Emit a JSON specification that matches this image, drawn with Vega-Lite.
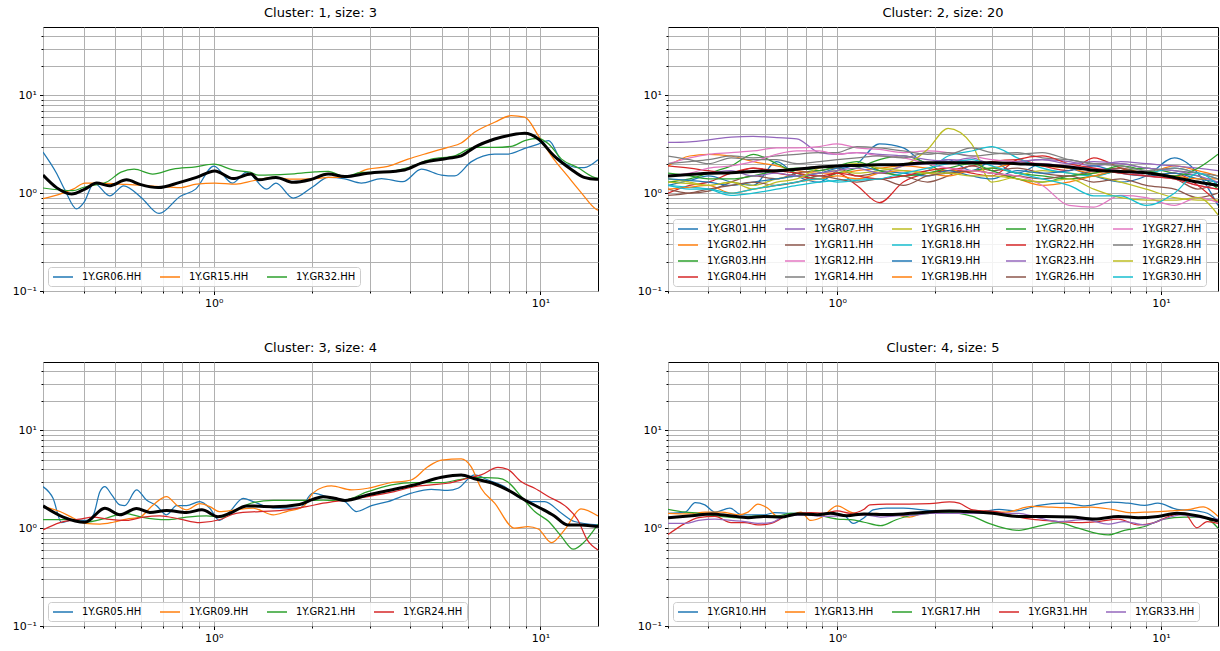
{
  "$schema": "https://vega.github.io/schema/vega-lite/v6.json",
  "padding": {"left": 11, "top": 6, "right": 0, "bottom": 0},
  "config": {
    "font": "DejaVu Sans",
    "view": {"stroke": "black", "strokeWidth": 1},
    "axis": {"title": null, "labelFont": "DejaVu Sans", "labelFontSize": 11, "labelColor": "black", "tickColor": "black", "domain": false, "gridColor": "#b0b0b0", "gridWidth": 1, "labelPadding": 3, "labelFlush": false, "labelOverlap": false},
    "title": {"font": "DejaVu Sans", "fontSize": 13, "fontWeight": "normal", "color": "black", "offset": 7},
    "legend": {"orient": "bottom-left", "offset": 5, "title": null, "symbolType": "M-1,0L3,0", "symbolSize": 100, "symbolStrokeWidth": 1.5, "labelFont": "DejaVu Sans", "labelFontSize": 10, "labelColor": "black", "labelOffset": 18, "fillColor": "rgba(255,255,255,0.85)", "strokeColor": "#cccccc", "cornerRadius": 3, "padding": 4, "columnPadding": 15, "rowPadding": 5, "labelLimit": 0, "direction": "horizontal"}
  },
  "datasets": {
    "p1": [
      {"s":"GR06","f":0.3,"v":2.63},{"s":"GR06","f":0.33,"v":1.6},{"s":"GR06","f":0.35,"v":1.08},{"s":"GR06","f":0.38,"v":0.69},{"s":"GR06","f":0.4,"v":0.8},{"s":"GR06","f":0.43,"v":1.27},{"s":"GR06","f":0.48,"v":0.94},{"s":"GR06","f":0.53,"v":1.19},{"s":"GR06","f":0.6,"v":0.9},{"s":"GR06","f":0.68,"v":0.62},{"s":"GR06","f":0.79,"v":0.93},{"s":"GR06","f":0.88,"v":1.1},{"s":"GR06","f":1.0,"v":1.89},{"s":"GR06","f":1.14,"v":1.27},{"s":"GR06","f":1.26,"v":1.64},{"s":"GR06","f":1.45,"v":1.1},{"s":"GR06","f":1.55,"v":1.27},{"s":"GR06","f":1.75,"v":0.89},{"s":"GR06","f":2.0,"v":1.15},{"s":"GR06","f":2.24,"v":1.45},{"s":"GR06","f":2.52,"v":1.4},{"s":"GR06","f":2.83,"v":1.27},{"s":"GR06","f":3.26,"v":1.41},{"s":"GR06","f":3.79,"v":1.31},{"s":"GR06","f":4.32,"v":1.76},{"s":"GR06","f":4.98,"v":1.53},{"s":"GR06","f":5.46,"v":1.5},{"s":"GR06","f":6.13,"v":2.09},{"s":"GR06","f":7.24,"v":2.51},{"s":"GR06","f":7.93,"v":2.51},{"s":"GR06","f":8.95,"v":2.87},{"s":"GR06","f":9.85,"v":3.18},{"s":"GR06","f":10.6,"v":3.44},{"s":"GR06","f":11.6,"v":2.14},{"s":"GR06","f":13.0,"v":1.83},{"s":"GR06","f":13.6,"v":1.83},{"s":"GR06","f":15,"v":2.2},
      {"s":"GR15","f":0.3,"v":0.88},{"s":"GR15","f":0.338,"v":0.98},{"s":"GR15","f":0.371,"v":1.1},{"s":"GR15","f":0.403,"v":1.27},{"s":"GR15","f":0.448,"v":1.27},{"s":"GR15","f":0.516,"v":1.24},{"s":"GR15","f":0.594,"v":1.21},{"s":"GR15","f":0.684,"v":1.17},{"s":"GR15","f":0.787,"v":1.14},{"s":"GR15","f":0.885,"v":1.24},{"s":"GR15","f":1.007,"v":1.27},{"s":"GR15","f":1.17,"v":1.24},{"s":"GR15","f":1.32,"v":1.34},{"s":"GR15","f":1.52,"v":1.45},{"s":"GR15","f":1.75,"v":1.39},{"s":"GR15","f":2.04,"v":1.41},{"s":"GR15","f":2.24,"v":1.45},{"s":"GR15","f":2.52,"v":1.45},{"s":"GR15","f":2.96,"v":1.76},{"s":"GR15","f":3.41,"v":1.88},{"s":"GR15","f":3.93,"v":2.23},{"s":"GR15","f":4.52,"v":2.57},{"s":"GR15","f":5.2,"v":2.94},{"s":"GR15","f":5.72,"v":3.26},{"s":"GR15","f":6.28,"v":4.19},{"s":"GR15","f":7.24,"v":5.31},{"s":"GR15","f":8.13,"v":6.2},{"s":"GR15","f":8.95,"v":5.98},{"s":"GR15","f":9.85,"v":3.87},{"s":"GR15","f":10.8,"v":2.41},{"s":"GR15","f":12.1,"v":1.5},{"s":"GR15","f":13.3,"v":1.02},{"s":"GR15","f":14.8,"v":0.685},{"s":"GR15","f":15,"v":0.67},
      {"s":"GR32","f":0.3,"v":1.13},{"s":"GR32","f":0.37,"v":1.06},{"s":"GR32","f":0.4,"v":1.15},{"s":"GR32","f":0.47,"v":1.3},{"s":"GR32","f":0.52,"v":1.64},{"s":"GR32","f":0.57,"v":1.76},{"s":"GR32","f":0.65,"v":1.57},{"s":"GR32","f":0.75,"v":1.76},{"s":"GR32","f":0.88,"v":1.86},{"s":"GR32","f":1.0,"v":1.98},{"s":"GR32","f":1.15,"v":1.72},{"s":"GR32","f":1.29,"v":1.64},{"s":"GR32","f":1.37,"v":1.53},{"s":"GR32","f":1.7,"v":1.57},{"s":"GR32","f":2.04,"v":1.65},{"s":"GR32","f":2.24,"v":1.67},{"s":"GR32","f":2.52,"v":1.48},{"s":"GR32","f":2.83,"v":1.63},{"s":"GR32","f":3.26,"v":1.63},{"s":"GR32","f":3.93,"v":1.83},{"s":"GR32","f":4.63,"v":2.23},{"s":"GR32","f":5.46,"v":2.41},{"s":"GR32","f":6.28,"v":2.94},{"s":"GR32","f":7.24,"v":2.94},{"s":"GR32","f":8.13,"v":3.01},{"s":"GR32","f":8.95,"v":3.44},{"s":"GR32","f":9.85,"v":3.64},{"s":"GR32","f":10.6,"v":3.18},{"s":"GR32","f":11.6,"v":2.23},{"s":"GR32","f":13.0,"v":1.83},{"s":"GR32","f":14.6,"v":1.45},{"s":"GR32","f":15,"v":1.42}
    ],
    "m1": [
      {"f":0.3,"v":1.53},{"f":0.33,"v":1.14},{"f":0.367,"v":0.98},{"f":0.403,"v":1.1},{"f":0.438,"v":1.27},{"f":0.478,"v":1.19},{"f":0.541,"v":1.37},{"f":0.594,"v":1.23},{"f":0.676,"v":1.14},{"f":0.787,"v":1.29},{"f":0.885,"v":1.45},{"f":1.007,"v":1.69},{"f":1.146,"v":1.41},{"f":1.3,"v":1.57},{"f":1.37,"v":1.37},{"f":1.55,"v":1.45},{"f":1.75,"v":1.29},{"f":1.97,"v":1.37},{"f":2.24,"v":1.57},{"f":2.52,"v":1.48},{"f":2.96,"v":1.6},{"f":3.84,"v":1.73},{"f":4.32,"v":2.03},{"f":5.2,"v":2.27},{"f":5.72,"v":2.41},{"f":6.28,"v":2.94},{"f":7.24,"v":3.58},{"f":8.13,"v":3.93},{"f":8.95,"v":4.09},{"f":9.85,"v":3.58},{"f":11.0,"v":2.41},{"f":12.4,"v":1.76},{"f":13.6,"v":1.45},{"f":14.8,"v":1.39},{"f":15,"v":1.39}
    ],
    "p2": [
      {"s":"GR01","f":0.3,"v":1.2},{"s":"GR01","f":0.35,"v":1.35},{"s":"GR01","f":0.4,"v":1.5},{"s":"GR01","f":0.47,"v":1.3},{"s":"GR01","f":0.55,"v":1.2},{"s":"GR01","f":0.65,"v":2.1},{"s":"GR01","f":0.75,"v":1.5},{"s":"GR01","f":0.88,"v":1.3},{"s":"GR01","f":1.0,"v":1.7},{"s":"GR01","f":1.15,"v":2.0},{"s":"GR01","f":1.35,"v":3.2},{"s":"GR01","f":1.6,"v":2.9},{"s":"GR01","f":1.9,"v":2.0},{"s":"GR01","f":2.2,"v":2.2},{"s":"GR01","f":2.6,"v":1.7},{"s":"GR01","f":3.0,"v":2.1},{"s":"GR01","f":3.6,"v":1.6},{"s":"GR01","f":4.3,"v":2.0},{"s":"GR01","f":5.2,"v":1.8},{"s":"GR01","f":6.2,"v":1.5},{"s":"GR01","f":7.5,"v":1.3},{"s":"GR01","f":9,"v":1.5},{"s":"GR01","f":11,"v":2.3},{"s":"GR01","f":13,"v":1.6},{"s":"GR01","f":15,"v":0.75},
      {"s":"GR02","f":0.3,"v":1.9},{"s":"GR02","f":0.35,"v":2.4},{"s":"GR02","f":0.4,"v":2.5},{"s":"GR02","f":0.47,"v":2.4},{"s":"GR02","f":0.55,"v":2.1},{"s":"GR02","f":0.65,"v":1.9},{"s":"GR02","f":0.75,"v":1.7},{"s":"GR02","f":0.88,"v":1.6},{"s":"GR02","f":1.0,"v":1.6},{"s":"GR02","f":1.15,"v":1.7},{"s":"GR02","f":1.35,"v":1.8},{"s":"GR02","f":1.6,"v":1.9},{"s":"GR02","f":1.9,"v":1.8},{"s":"GR02","f":2.2,"v":1.7},{"s":"GR02","f":2.6,"v":1.7},{"s":"GR02","f":3.0,"v":1.8},{"s":"GR02","f":3.6,"v":2.0},{"s":"GR02","f":4.3,"v":1.9},{"s":"GR02","f":5.2,"v":1.8},{"s":"GR02","f":6.2,"v":1.6},{"s":"GR02","f":7.5,"v":1.8},{"s":"GR02","f":9,"v":1.6},{"s":"GR02","f":11,"v":1.9},{"s":"GR02","f":13,"v":1.7},{"s":"GR02","f":15,"v":1.5},
      {"s":"GR03","f":0.3,"v":1.3},{"s":"GR03","f":0.35,"v":1.4},{"s":"GR03","f":0.4,"v":1.6},{"s":"GR03","f":0.47,"v":1.9},{"s":"GR03","f":0.55,"v":2.5},{"s":"GR03","f":0.65,"v":2.0},{"s":"GR03","f":0.75,"v":1.6},{"s":"GR03","f":0.88,"v":1.4},{"s":"GR03","f":1.0,"v":1.6},{"s":"GR03","f":1.15,"v":1.8},{"s":"GR03","f":1.35,"v":2.2},{"s":"GR03","f":1.6,"v":2.4},{"s":"GR03","f":1.9,"v":2.0},{"s":"GR03","f":2.2,"v":1.6},{"s":"GR03","f":2.6,"v":1.7},{"s":"GR03","f":3.0,"v":1.8},{"s":"GR03","f":3.6,"v":1.6},{"s":"GR03","f":4.3,"v":1.5},{"s":"GR03","f":5.2,"v":1.4},{"s":"GR03","f":6.2,"v":1.5},{"s":"GR03","f":7.5,"v":1.7},{"s":"GR03","f":9,"v":1.8},{"s":"GR03","f":11,"v":1.6},{"s":"GR03","f":13,"v":1.5},{"s":"GR03","f":15,"v":1.1},
      {"s":"GR04","f":0.3,"v":1.0},{"s":"GR04","f":0.35,"v":1.2},{"s":"GR04","f":0.4,"v":1.3},{"s":"GR04","f":0.47,"v":1.6},{"s":"GR04","f":0.55,"v":1.8},{"s":"GR04","f":0.65,"v":1.6},{"s":"GR04","f":0.75,"v":1.5},{"s":"GR04","f":0.88,"v":1.4},{"s":"GR04","f":1.0,"v":1.6},{"s":"GR04","f":1.15,"v":1.2},{"s":"GR04","f":1.35,"v":0.8},{"s":"GR04","f":1.6,"v":1.3},{"s":"GR04","f":1.9,"v":1.6},{"s":"GR04","f":2.2,"v":1.7},{"s":"GR04","f":2.6,"v":1.9},{"s":"GR04","f":3.0,"v":2.1},{"s":"GR04","f":3.6,"v":2.2},{"s":"GR04","f":4.3,"v":1.9},{"s":"GR04","f":5.2,"v":1.7},{"s":"GR04","f":6.2,"v":2.3},{"s":"GR04","f":7.5,"v":1.8},{"s":"GR04","f":9,"v":1.5},{"s":"GR04","f":11,"v":1.6},{"s":"GR04","f":13,"v":1.2},{"s":"GR04","f":15,"v":0.8},
      {"s":"GR07","f":0.3,"v":3.3},{"s":"GR07","f":0.35,"v":3.35},{"s":"GR07","f":0.4,"v":3.5},{"s":"GR07","f":0.47,"v":3.75},{"s":"GR07","f":0.55,"v":3.8},{"s":"GR07","f":0.65,"v":3.7},{"s":"GR07","f":0.75,"v":3.6},{"s":"GR07","f":0.88,"v":2.6},{"s":"GR07","f":1.0,"v":2.5},{"s":"GR07","f":1.15,"v":2.6},{"s":"GR07","f":1.35,"v":2.5},{"s":"GR07","f":1.6,"v":2.4},{"s":"GR07","f":1.9,"v":2.2},{"s":"GR07","f":2.2,"v":2.1},{"s":"GR07","f":2.6,"v":2.3},{"s":"GR07","f":3.0,"v":2.0},{"s":"GR07","f":3.6,"v":2.1},{"s":"GR07","f":4.3,"v":2.2},{"s":"GR07","f":5.2,"v":2.1},{"s":"GR07","f":6.2,"v":1.9},{"s":"GR07","f":7.5,"v":2.1},{"s":"GR07","f":9,"v":2.0},{"s":"GR07","f":11,"v":1.9},{"s":"GR07","f":13,"v":1.8},{"s":"GR07","f":15,"v":1.7},
      {"s":"GR11","f":0.3,"v":1.1},{"s":"GR11","f":0.35,"v":1.0},{"s":"GR11","f":0.4,"v":1.05},{"s":"GR11","f":0.47,"v":1.3},{"s":"GR11","f":0.55,"v":1.5},{"s":"GR11","f":0.65,"v":1.4},{"s":"GR11","f":0.75,"v":1.6},{"s":"GR11","f":0.88,"v":1.7},{"s":"GR11","f":1.0,"v":1.8},{"s":"GR11","f":1.15,"v":1.5},{"s":"GR11","f":1.35,"v":1.6},{"s":"GR11","f":1.6,"v":1.5},{"s":"GR11","f":1.9,"v":1.3},{"s":"GR11","f":2.2,"v":1.5},{"s":"GR11","f":2.6,"v":1.9},{"s":"GR11","f":3.0,"v":1.7},{"s":"GR11","f":3.6,"v":1.8},{"s":"GR11","f":4.3,"v":1.6},{"s":"GR11","f":5.2,"v":1.5},{"s":"GR11","f":6.2,"v":1.7},{"s":"GR11","f":7.5,"v":1.8},{"s":"GR11","f":9,"v":1.5},{"s":"GR11","f":11,"v":1.4},{"s":"GR11","f":13,"v":1.1},{"s":"GR11","f":15,"v":1.3},
      {"s":"GR12","f":0.3,"v":2.0},{"s":"GR12","f":0.35,"v":2.3},{"s":"GR12","f":0.4,"v":2.5},{"s":"GR12","f":0.47,"v":2.6},{"s":"GR12","f":0.55,"v":2.7},{"s":"GR12","f":0.65,"v":2.9},{"s":"GR12","f":0.75,"v":2.9},{"s":"GR12","f":0.88,"v":3.0},{"s":"GR12","f":1.0,"v":3.2},{"s":"GR12","f":1.15,"v":2.9},{"s":"GR12","f":1.35,"v":2.8},{"s":"GR12","f":1.6,"v":2.6},{"s":"GR12","f":1.9,"v":2.7},{"s":"GR12","f":2.2,"v":2.6},{"s":"GR12","f":2.6,"v":2.4},{"s":"GR12","f":3.0,"v":2.2},{"s":"GR12","f":3.6,"v":2.1},{"s":"GR12","f":4.3,"v":2.0},{"s":"GR12","f":5.2,"v":1.9},{"s":"GR12","f":6.2,"v":1.8},{"s":"GR12","f":7.5,"v":1.7},{"s":"GR12","f":9,"v":1.5},{"s":"GR12","f":11,"v":1.4},{"s":"GR12","f":13,"v":1.2},{"s":"GR12","f":15,"v":1.1},
      {"s":"GR14","f":0.3,"v":2.0},{"s":"GR14","f":0.35,"v":2.1},{"s":"GR14","f":0.4,"v":2.2},{"s":"GR14","f":0.47,"v":2.4},{"s":"GR14","f":0.55,"v":2.3},{"s":"GR14","f":0.65,"v":2.4},{"s":"GR14","f":0.75,"v":2.5},{"s":"GR14","f":0.88,"v":2.6},{"s":"GR14","f":1.0,"v":2.6},{"s":"GR14","f":1.15,"v":3.0},{"s":"GR14","f":1.35,"v":2.9},{"s":"GR14","f":1.6,"v":2.7},{"s":"GR14","f":1.9,"v":2.5},{"s":"GR14","f":2.2,"v":2.6},{"s":"GR14","f":2.6,"v":2.4},{"s":"GR14","f":3.0,"v":2.5},{"s":"GR14","f":3.6,"v":2.6},{"s":"GR14","f":4.3,"v":2.3},{"s":"GR14","f":5.2,"v":2.2},{"s":"GR14","f":6.2,"v":2.0},{"s":"GR14","f":7.5,"v":2.0},{"s":"GR14","f":9,"v":1.8},{"s":"GR14","f":11,"v":1.7},{"s":"GR14","f":13,"v":1.6},{"s":"GR14","f":15,"v":1.5},
      {"s":"GR16","f":0.3,"v":1.4},{"s":"GR16","f":0.35,"v":1.3},{"s":"GR16","f":0.4,"v":1.2},{"s":"GR16","f":0.47,"v":1.3},{"s":"GR16","f":0.55,"v":1.2},{"s":"GR16","f":0.65,"v":1.4},{"s":"GR16","f":0.75,"v":1.5},{"s":"GR16","f":0.88,"v":1.6},{"s":"GR16","f":1.0,"v":1.7},{"s":"GR16","f":1.15,"v":1.6},{"s":"GR16","f":1.35,"v":1.7},{"s":"GR16","f":1.6,"v":1.9},{"s":"GR16","f":1.9,"v":2.8},{"s":"GR16","f":2.2,"v":4.6},{"s":"GR16","f":2.6,"v":3.2},{"s":"GR16","f":3.0,"v":1.3},{"s":"GR16","f":3.6,"v":1.5},{"s":"GR16","f":4.3,"v":1.7},{"s":"GR16","f":5.2,"v":1.6},{"s":"GR16","f":6.2,"v":1.5},{"s":"GR16","f":7.5,"v":1.3},{"s":"GR16","f":9,"v":1.1},{"s":"GR16","f":11,"v":0.9},{"s":"GR16","f":13,"v":0.85},{"s":"GR16","f":15,"v":0.85},
      {"s":"GR18","f":0.3,"v":1.2},{"s":"GR18","f":0.35,"v":1.15},{"s":"GR18","f":0.4,"v":1.1},{"s":"GR18","f":0.47,"v":0.95},{"s":"GR18","f":0.55,"v":1.0},{"s":"GR18","f":0.65,"v":1.1},{"s":"GR18","f":0.75,"v":1.2},{"s":"GR18","f":0.88,"v":1.3},{"s":"GR18","f":1.0,"v":1.35},{"s":"GR18","f":1.15,"v":1.4},{"s":"GR18","f":1.35,"v":1.4},{"s":"GR18","f":1.6,"v":1.5},{"s":"GR18","f":1.9,"v":1.7},{"s":"GR18","f":2.2,"v":2.4},{"s":"GR18","f":2.6,"v":2.7},{"s":"GR18","f":3.0,"v":3.0},{"s":"GR18","f":3.6,"v":2.3},{"s":"GR18","f":4.3,"v":1.8},{"s":"GR18","f":5.2,"v":1.6},{"s":"GR18","f":6.2,"v":1.5},{"s":"GR18","f":7.5,"v":1.7},{"s":"GR18","f":9,"v":1.6},{"s":"GR18","f":11,"v":1.8},{"s":"GR18","f":13,"v":1.6},{"s":"GR18","f":15,"v":1.4},
      {"s":"GR19","f":0.3,"v":1.4},{"s":"GR19","f":0.35,"v":1.35},{"s":"GR19","f":0.4,"v":1.3},{"s":"GR19","f":0.47,"v":1.2},{"s":"GR19","f":0.55,"v":1.3},{"s":"GR19","f":0.65,"v":1.4},{"s":"GR19","f":0.75,"v":1.5},{"s":"GR19","f":0.88,"v":1.6},{"s":"GR19","f":1.0,"v":1.8},{"s":"GR19","f":1.15,"v":1.9},{"s":"GR19","f":1.35,"v":1.7},{"s":"GR19","f":1.6,"v":1.6},{"s":"GR19","f":1.9,"v":1.5},{"s":"GR19","f":2.2,"v":1.7},{"s":"GR19","f":2.6,"v":1.5},{"s":"GR19","f":3.0,"v":1.4},{"s":"GR19","f":3.6,"v":1.7},{"s":"GR19","f":4.3,"v":1.6},{"s":"GR19","f":5.2,"v":1.7},{"s":"GR19","f":6.2,"v":1.9},{"s":"GR19","f":7.5,"v":1.6},{"s":"GR19","f":9,"v":1.5},{"s":"GR19","f":11,"v":1.6},{"s":"GR19","f":13,"v":1.4},{"s":"GR19","f":15,"v":1.3},
      {"s":"GR19B","f":0.3,"v":1.1},{"s":"GR19B","f":0.35,"v":1.15},{"s":"GR19B","f":0.4,"v":1.2},{"s":"GR19B","f":0.47,"v":1.0},{"s":"GR19B","f":0.55,"v":1.1},{"s":"GR19B","f":0.65,"v":1.2},{"s":"GR19B","f":0.75,"v":1.3},{"s":"GR19B","f":0.88,"v":1.4},{"s":"GR19B","f":1.0,"v":1.5},{"s":"GR19B","f":1.15,"v":1.4},{"s":"GR19B","f":1.35,"v":1.6},{"s":"GR19B","f":1.6,"v":1.7},{"s":"GR19B","f":1.9,"v":1.6},{"s":"GR19B","f":2.2,"v":1.5},{"s":"GR19B","f":2.6,"v":1.7},{"s":"GR19B","f":3.0,"v":1.6},{"s":"GR19B","f":3.6,"v":1.4},{"s":"GR19B","f":4.3,"v":1.2},{"s":"GR19B","f":5.2,"v":1.3},{"s":"GR19B","f":6.2,"v":1.5},{"s":"GR19B","f":7.5,"v":1.7},{"s":"GR19B","f":9,"v":1.6},{"s":"GR19B","f":11,"v":1.5},{"s":"GR19B","f":13,"v":1.4},{"s":"GR19B","f":15,"v":1.4},
      {"s":"GR20","f":0.3,"v":1.6},{"s":"GR20","f":0.35,"v":1.5},{"s":"GR20","f":0.4,"v":1.4},{"s":"GR20","f":0.47,"v":1.4},{"s":"GR20","f":0.55,"v":1.5},{"s":"GR20","f":0.65,"v":1.7},{"s":"GR20","f":0.75,"v":1.8},{"s":"GR20","f":0.88,"v":1.7},{"s":"GR20","f":1.0,"v":1.9},{"s":"GR20","f":1.15,"v":2.1},{"s":"GR20","f":1.35,"v":1.7},{"s":"GR20","f":1.6,"v":1.5},{"s":"GR20","f":1.9,"v":1.6},{"s":"GR20","f":2.2,"v":1.8},{"s":"GR20","f":2.6,"v":2.0},{"s":"GR20","f":3.0,"v":1.7},{"s":"GR20","f":3.6,"v":1.4},{"s":"GR20","f":4.3,"v":1.3},{"s":"GR20","f":5.2,"v":1.5},{"s":"GR20","f":6.2,"v":1.6},{"s":"GR20","f":7.5,"v":1.9},{"s":"GR20","f":9,"v":1.7},{"s":"GR20","f":11,"v":1.5},{"s":"GR20","f":13,"v":1.8},{"s":"GR20","f":15,"v":2.5},
      {"s":"GR22","f":0.3,"v":1.9},{"s":"GR22","f":0.35,"v":1.8},{"s":"GR22","f":0.4,"v":1.7},{"s":"GR22","f":0.47,"v":1.6},{"s":"GR22","f":0.55,"v":1.8},{"s":"GR22","f":0.65,"v":1.7},{"s":"GR22","f":0.75,"v":1.6},{"s":"GR22","f":0.88,"v":1.5},{"s":"GR22","f":1.0,"v":1.6},{"s":"GR22","f":1.15,"v":1.5},{"s":"GR22","f":1.35,"v":1.4},{"s":"GR22","f":1.6,"v":1.5},{"s":"GR22","f":1.9,"v":1.7},{"s":"GR22","f":2.2,"v":1.8},{"s":"GR22","f":2.6,"v":1.6},{"s":"GR22","f":3.0,"v":1.5},{"s":"GR22","f":3.6,"v":2.2},{"s":"GR22","f":4.3,"v":2.4},{"s":"GR22","f":5.2,"v":2.0},{"s":"GR22","f":6.2,"v":1.8},{"s":"GR22","f":7.5,"v":1.6},{"s":"GR22","f":9,"v":1.5},{"s":"GR22","f":11,"v":1.4},{"s":"GR22","f":13,"v":1.2},{"s":"GR22","f":15,"v":1.1},
      {"s":"GR23","f":0.3,"v":1.5},{"s":"GR23","f":0.35,"v":1.55},{"s":"GR23","f":0.4,"v":1.6},{"s":"GR23","f":0.47,"v":1.7},{"s":"GR23","f":0.55,"v":1.5},{"s":"GR23","f":0.65,"v":1.6},{"s":"GR23","f":0.75,"v":1.5},{"s":"GR23","f":0.88,"v":1.6},{"s":"GR23","f":1.0,"v":1.7},{"s":"GR23","f":1.15,"v":1.8},{"s":"GR23","f":1.35,"v":1.6},{"s":"GR23","f":1.6,"v":1.9},{"s":"GR23","f":1.9,"v":2.0},{"s":"GR23","f":2.2,"v":2.2},{"s":"GR23","f":2.6,"v":2.1},{"s":"GR23","f":3.0,"v":2.0},{"s":"GR23","f":3.6,"v":2.1},{"s":"GR23","f":4.3,"v":2.2},{"s":"GR23","f":5.2,"v":2.0},{"s":"GR23","f":6.2,"v":2.1},{"s":"GR23","f":7.5,"v":2.0},{"s":"GR23","f":9,"v":1.8},{"s":"GR23","f":11,"v":1.7},{"s":"GR23","f":13,"v":1.5},{"s":"GR23","f":15,"v":1.3},
      {"s":"GR26","f":0.3,"v":0.95},{"s":"GR26","f":0.35,"v":1.0},{"s":"GR26","f":0.4,"v":1.1},{"s":"GR26","f":0.47,"v":1.2},{"s":"GR26","f":0.55,"v":1.3},{"s":"GR26","f":0.65,"v":1.2},{"s":"GR26","f":0.75,"v":1.3},{"s":"GR26","f":0.88,"v":1.5},{"s":"GR26","f":1.0,"v":1.4},{"s":"GR26","f":1.15,"v":1.3},{"s":"GR26","f":1.35,"v":1.4},{"s":"GR26","f":1.6,"v":1.2},{"s":"GR26","f":1.9,"v":1.5},{"s":"GR26","f":2.2,"v":1.6},{"s":"GR26","f":2.6,"v":1.7},{"s":"GR26","f":3.0,"v":1.6},{"s":"GR26","f":3.6,"v":1.5},{"s":"GR26","f":4.3,"v":1.4},{"s":"GR26","f":5.2,"v":1.5},{"s":"GR26","f":6.2,"v":1.3},{"s":"GR26","f":7.5,"v":1.4},{"s":"GR26","f":9,"v":1.2},{"s":"GR26","f":11,"v":1.1},{"s":"GR26","f":13,"v":0.9},{"s":"GR26","f":15,"v":1.0},
      {"s":"GR27","f":0.3,"v":1.5},{"s":"GR27","f":0.35,"v":1.6},{"s":"GR27","f":0.4,"v":1.8},{"s":"GR27","f":0.47,"v":1.9},{"s":"GR27","f":0.55,"v":2.1},{"s":"GR27","f":0.65,"v":2.5},{"s":"GR27","f":0.75,"v":2.7},{"s":"GR27","f":0.88,"v":2.7},{"s":"GR27","f":1.0,"v":2.5},{"s":"GR27","f":1.15,"v":2.6},{"s":"GR27","f":1.35,"v":2.4},{"s":"GR27","f":1.6,"v":2.3},{"s":"GR27","f":1.9,"v":2.0},{"s":"GR27","f":2.2,"v":1.8},{"s":"GR27","f":2.6,"v":1.7},{"s":"GR27","f":3.0,"v":1.6},{"s":"GR27","f":3.6,"v":1.5},{"s":"GR27","f":4.3,"v":1.2},{"s":"GR27","f":5.2,"v":0.75},{"s":"GR27","f":6.2,"v":0.72},{"s":"GR27","f":7.5,"v":0.95},{"s":"GR27","f":9,"v":0.9},{"s":"GR27","f":11,"v":0.75},{"s":"GR27","f":13,"v":0.9},{"s":"GR27","f":15,"v":0.8},
      {"s":"GR28","f":0.3,"v":2.4},{"s":"GR28","f":0.35,"v":2.2},{"s":"GR28","f":0.4,"v":2.0},{"s":"GR28","f":0.47,"v":2.3},{"s":"GR28","f":0.55,"v":2.2},{"s":"GR28","f":0.65,"v":2.2},{"s":"GR28","f":0.75,"v":2.0},{"s":"GR28","f":0.88,"v":2.1},{"s":"GR28","f":1.0,"v":2.2},{"s":"GR28","f":1.15,"v":2.3},{"s":"GR28","f":1.35,"v":2.4},{"s":"GR28","f":1.6,"v":2.3},{"s":"GR28","f":1.9,"v":2.6},{"s":"GR28","f":2.2,"v":2.5},{"s":"GR28","f":2.6,"v":2.9},{"s":"GR28","f":3.0,"v":2.6},{"s":"GR28","f":3.6,"v":2.5},{"s":"GR28","f":4.3,"v":2.6},{"s":"GR28","f":5.2,"v":2.2},{"s":"GR28","f":6.2,"v":2.0},{"s":"GR28","f":7.5,"v":1.9},{"s":"GR28","f":9,"v":1.7},{"s":"GR28","f":11,"v":1.8},{"s":"GR28","f":13,"v":1.6},{"s":"GR28","f":15,"v":1.4},
      {"s":"GR29","f":0.3,"v":1.3},{"s":"GR29","f":0.35,"v":1.25},{"s":"GR29","f":0.4,"v":1.2},{"s":"GR29","f":0.47,"v":1.3},{"s":"GR29","f":0.55,"v":1.1},{"s":"GR29","f":0.65,"v":1.3},{"s":"GR29","f":0.75,"v":1.4},{"s":"GR29","f":0.88,"v":1.8},{"s":"GR29","f":1.0,"v":1.9},{"s":"GR29","f":1.15,"v":2.0},{"s":"GR29","f":1.35,"v":1.8},{"s":"GR29","f":1.6,"v":1.7},{"s":"GR29","f":1.9,"v":1.6},{"s":"GR29","f":2.2,"v":1.6},{"s":"GR29","f":2.6,"v":1.5},{"s":"GR29","f":3.0,"v":1.5},{"s":"GR29","f":3.6,"v":1.4},{"s":"GR29","f":4.3,"v":1.3},{"s":"GR29","f":5.2,"v":1.4},{"s":"GR29","f":6.2,"v":1.1},{"s":"GR29","f":7.5,"v":0.9},{"s":"GR29","f":9,"v":0.85},{"s":"GR29","f":11,"v":0.85},{"s":"GR29","f":13,"v":0.9},{"s":"GR29","f":15,"v":0.6},
      {"s":"GR30","f":0.3,"v":1.2},{"s":"GR30","f":0.35,"v":1.1},{"s":"GR30","f":0.4,"v":1.1},{"s":"GR30","f":0.47,"v":1.0},{"s":"GR30","f":0.55,"v":1.1},{"s":"GR30","f":0.65,"v":1.2},{"s":"GR30","f":0.75,"v":1.3},{"s":"GR30","f":0.88,"v":1.4},{"s":"GR30","f":1.0,"v":1.3},{"s":"GR30","f":1.15,"v":1.35},{"s":"GR30","f":1.35,"v":1.4},{"s":"GR30","f":1.6,"v":1.6},{"s":"GR30","f":1.9,"v":1.8},{"s":"GR30","f":2.2,"v":2.0},{"s":"GR30","f":2.6,"v":2.2},{"s":"GR30","f":3.0,"v":1.9},{"s":"GR30","f":3.6,"v":1.6},{"s":"GR30","f":4.3,"v":1.4},{"s":"GR30","f":5.2,"v":1.2},{"s":"GR30","f":6.2,"v":0.94},{"s":"GR30","f":7.5,"v":0.94},{"s":"GR30","f":9,"v":0.75},{"s":"GR30","f":11,"v":1.0},{"s":"GR30","f":13,"v":1.6},{"s":"GR30","f":15,"v":1.2}
    ],
    "m2": [
      {"f":0.3,"v":1.5},{"f":0.35,"v":1.55},{"f":0.4,"v":1.6},{"f":0.47,"v":1.62},{"f":0.55,"v":1.67},{"f":0.65,"v":1.7},{"f":0.75,"v":1.76},{"f":0.88,"v":1.85},{"f":1.0,"v":1.9},{"f":1.15,"v":1.92},{"f":1.35,"v":1.95},{"f":1.6,"v":1.97},{"f":1.9,"v":2.05},{"f":2.2,"v":2.05},{"f":2.6,"v":2.05},{"f":3.0,"v":2.05},{"f":3.6,"v":2.0},{"f":4.3,"v":1.95},{"f":5.2,"v":1.85},{"f":6.2,"v":1.72},{"f":7.5,"v":1.67},{"f":9,"v":1.62},{"f":11,"v":1.45},{"f":13,"v":1.3},{"f":15,"v":1.2}
    ],
    "p3": [
      {"s":"GR05","f":0.3,"v":2.66},{"s":"GR05","f":0.322,"v":2.02},{"s":"GR05","f":0.342,"v":1.14},{"s":"GR05","f":0.371,"v":1.22},{"s":"GR05","f":0.408,"v":1.2},{"s":"GR05","f":0.428,"v":1.37},{"s":"GR05","f":0.448,"v":2.36},{"s":"GR05","f":0.464,"v":2.66},{"s":"GR05","f":0.487,"v":2.19},{"s":"GR05","f":0.516,"v":1.73},{"s":"GR05","f":0.534,"v":1.7},{"s":"GR05","f":0.58,"v":2.46},{"s":"GR05","f":0.622,"v":1.94},{"s":"GR05","f":0.668,"v":1.7},{"s":"GR05","f":0.717,"v":1.37},{"s":"GR05","f":0.769,"v":1.7},{"s":"GR05","f":0.825,"v":1.7},{"s":"GR05","f":0.906,"v":1.87},{"s":"GR05","f":0.972,"v":1.6},{"s":"GR05","f":1.04,"v":1.2},{"s":"GR05","f":1.12,"v":1.48},{"s":"GR05","f":1.23,"v":2.02},{"s":"GR05","f":1.32,"v":1.87},{"s":"GR05","f":1.45,"v":1.66},{"s":"GR05","f":1.59,"v":1.6},{"s":"GR05","f":1.83,"v":1.6},{"s":"GR05","f":2.01,"v":2.28},{"s":"GR05","f":2.29,"v":2.02},{"s":"GR05","f":2.52,"v":1.87},{"s":"GR05","f":2.73,"v":1.48},{"s":"GR05","f":3.04,"v":1.7},{"s":"GR05","f":3.41,"v":1.87},{"s":"GR05","f":4.02,"v":2.28},{"s":"GR05","f":4.63,"v":2.5},{"s":"GR05","f":5.2,"v":2.43},{"s":"GR05","f":5.59,"v":2.56},{"s":"GR05","f":6.28,"v":3.5},{"s":"GR05","f":6.91,"v":3.11},{"s":"GR05","f":7.76,"v":2.66},{"s":"GR05","f":8.53,"v":2.1},{"s":"GR05","f":9.38,"v":1.87},{"s":"GR05","f":10.3,"v":1.87},{"s":"GR05","f":11.6,"v":1.42},{"s":"GR05","f":12.7,"v":1.17},{"s":"GR05","f":15,"v":1.08},
      {"s":"GR09","f":0.3,"v":1.66},{"s":"GR09","f":0.338,"v":1.48},{"s":"GR09","f":0.371,"v":1.27},{"s":"GR09","f":0.403,"v":1.12},{"s":"GR09","f":0.448,"v":1.1},{"s":"GR09","f":0.492,"v":1.15},{"s":"GR09","f":0.541,"v":1.24},{"s":"GR09","f":0.594,"v":1.3},{"s":"GR09","f":0.652,"v":1.73},{"s":"GR09","f":0.717,"v":2.1},{"s":"GR09","f":0.769,"v":1.73},{"s":"GR09","f":0.825,"v":1.54},{"s":"GR09","f":0.906,"v":1.78},{"s":"GR09","f":0.972,"v":1.66},{"s":"GR09","f":1.04,"v":1.48},{"s":"GR09","f":1.17,"v":1.54},{"s":"GR09","f":1.32,"v":1.6},{"s":"GR09","f":1.52,"v":1.37},{"s":"GR09","f":1.67,"v":1.48},{"s":"GR09","f":1.88,"v":1.66},{"s":"GR09","f":2.01,"v":2.28},{"s":"GR09","f":2.16,"v":2.62},{"s":"GR09","f":2.29,"v":2.7},{"s":"GR09","f":2.64,"v":2.46},{"s":"GR09","f":2.96,"v":2.56},{"s":"GR09","f":3.41,"v":2.88},{"s":"GR09","f":4.02,"v":3.11},{"s":"GR09","f":4.52,"v":4.25},{"s":"GR09","f":4.98,"v":4.97},{"s":"GR09","f":5.72,"v":5.1},{"s":"GR09","f":6.13,"v":4.25},{"s":"GR09","f":6.58,"v":2.56},{"s":"GR09","f":7.24,"v":1.8},{"s":"GR09","f":8.33,"v":1.0},{"s":"GR09","f":9.15,"v":1.04},{"s":"GR09","f":9.85,"v":0.98},{"s":"GR09","f":10.8,"v":0.71},{"s":"GR09","f":11.9,"v":0.98},{"s":"GR09","f":13.3,"v":1.58},{"s":"GR09","f":15,"v":1.33},
      {"s":"GR21","f":0.3,"v":1.22},{"s":"GR21","f":0.371,"v":1.22},{"s":"GR21","f":0.403,"v":1.15},{"s":"GR21","f":0.47,"v":1.27},{"s":"GR21","f":0.534,"v":1.42},{"s":"GR21","f":0.6,"v":1.3},{"s":"GR21","f":0.717,"v":1.22},{"s":"GR21","f":0.825,"v":1.3},{"s":"GR21","f":0.95,"v":1.34},{"s":"GR21","f":1.056,"v":1.3},{"s":"GR21","f":1.17,"v":1.54},{"s":"GR21","f":1.32,"v":1.83},{"s":"GR21","f":1.52,"v":1.92},{"s":"GR21","f":1.83,"v":1.92},{"s":"GR21","f":2.16,"v":1.94},{"s":"GR21","f":2.34,"v":1.92},{"s":"GR21","f":2.52,"v":1.94},{"s":"GR21","f":2.96,"v":2.36},{"s":"GR21","f":3.5,"v":2.77},{"s":"GR21","f":4.11,"v":2.93},{"s":"GR21","f":4.98,"v":2.93},{"s":"GR21","f":5.59,"v":3.11},{"s":"GR21","f":6.28,"v":3.31},{"s":"GR21","f":7.41,"v":3.24},{"s":"GR21","f":7.93,"v":2.98},{"s":"GR21","f":8.74,"v":2.1},{"s":"GR21","f":9.6,"v":1.48},{"s":"GR21","f":10.6,"v":1.17},{"s":"GR21","f":11.6,"v":0.82},{"s":"GR21","f":12.6,"v":0.61},{"s":"GR21","f":13.6,"v":0.72},{"s":"GR21","f":15,"v":1.1},
      {"s":"GR24","f":0.3,"v":0.96},{"s":"GR24","f":0.338,"v":1.14},{"s":"GR24","f":0.389,"v":1.24},{"s":"GR24","f":0.428,"v":1.3},{"s":"GR24","f":0.47,"v":1.24},{"s":"GR24","f":0.541,"v":1.2},{"s":"GR24","f":0.608,"v":1.3},{"s":"GR24","f":0.684,"v":1.34},{"s":"GR24","f":0.787,"v":1.24},{"s":"GR24","f":0.906,"v":1.14},{"s":"GR24","f":1.04,"v":1.22},{"s":"GR24","f":1.17,"v":1.42},{"s":"GR24","f":1.38,"v":1.48},{"s":"GR24","f":1.67,"v":1.54},{"s":"GR24","f":1.92,"v":1.66},{"s":"GR24","f":2.16,"v":1.8},{"s":"GR24","f":2.52,"v":1.94},{"s":"GR24","f":2.96,"v":2.1},{"s":"GR24","f":3.57,"v":2.36},{"s":"GR24","f":4.11,"v":2.66},{"s":"GR24","f":4.63,"v":2.77},{"s":"GR24","f":5.2,"v":2.88},{"s":"GR24","f":5.99,"v":3.24},{"s":"GR24","f":6.58,"v":3.5},{"s":"GR24","f":7.41,"v":4.19},{"s":"GR24","f":7.93,"v":4.0},{"s":"GR24","f":8.74,"v":2.98},{"s":"GR24","f":9.6,"v":2.56},{"s":"GR24","f":10.6,"v":2.1},{"s":"GR24","f":11.9,"v":1.69},{"s":"GR24","f":13.0,"v":1.22},{"s":"GR24","f":13.9,"v":0.76},{"s":"GR24","f":15,"v":0.6}
    ],
    "m3": [
      {"f":0.3,"v":1.69},{"f":0.346,"v":1.3},{"f":0.403,"v":1.15},{"f":0.464,"v":1.6},{"f":0.516,"v":1.37},{"f":0.58,"v":1.59},{"f":0.637,"v":1.45},{"f":0.717,"v":1.52},{"f":0.825,"v":1.45},{"f":0.92,"v":1.54},{"f":1.03,"v":1.31},{"f":1.12,"v":1.42},{"f":1.26,"v":1.69},{"f":1.52,"v":1.66},{"f":1.83,"v":1.75},{"f":2.01,"v":1.97},{"f":2.16,"v":2.1},{"f":2.34,"v":2.02},{"f":2.52,"v":1.92},{"f":2.96,"v":2.19},{"f":3.57,"v":2.5},{"f":4.11,"v":2.77},{"f":4.98,"v":3.31},{"f":5.72,"v":3.5},{"f":6.28,"v":3.2},{"f":7.24,"v":2.83},{"f":7.93,"v":2.46},{"f":8.95,"v":1.94},{"f":10.0,"v":1.6},{"f":11.0,"v":1.34},{"f":12.1,"v":1.08},{"f":13.3,"v":1.08},{"f":15,"v":1.04}
    ],
    "p4": [
      {"s":"GR10","f":0.3,"v":1.42},{"s":"GR10","f":0.339,"v":1.46},{"s":"GR10","f":0.364,"v":1.83},{"s":"GR10","f":0.39,"v":1.73},{"s":"GR10","f":0.419,"v":1.46},{"s":"GR10","f":0.466,"v":1.6},{"s":"GR10","f":0.506,"v":1.37},{"s":"GR10","f":0.555,"v":1.37},{"s":"GR10","f":0.596,"v":1.37},{"s":"GR10","f":0.639,"v":1.44},{"s":"GR10","f":0.703,"v":1.42},{"s":"GR10","f":0.79,"v":1.42},{"s":"GR10","f":0.868,"v":1.37},{"s":"GR10","f":0.953,"v":1.42},{"s":"GR10","f":1.047,"v":1.37},{"s":"GR10","f":1.12,"v":1.12},{"s":"GR10","f":1.21,"v":1.28},{"s":"GR10","f":1.29,"v":1.54},{"s":"GR10","f":1.42,"v":1.6},{"s":"GR10","f":1.6,"v":1.6},{"s":"GR10","f":1.84,"v":1.54},{"s":"GR10","f":2.07,"v":1.5},{"s":"GR10","f":2.38,"v":1.5},{"s":"GR10","f":2.74,"v":1.46},{"s":"GR10","f":3.16,"v":1.56},{"s":"GR10","f":3.55,"v":1.5},{"s":"GR10","f":4.19,"v":1.71},{"s":"GR10","f":5.06,"v":1.8},{"s":"GR10","f":5.83,"v":1.69},{"s":"GR10","f":7.03,"v":1.85},{"s":"GR10","f":7.9,"v":1.8},{"s":"GR10","f":8.9,"v":1.71},{"s":"GR10","f":9.78,"v":1.8},{"s":"GR10","f":11.2,"v":1.56},{"s":"GR10","f":12.9,"v":1.5},{"s":"GR10","f":13.9,"v":1.42},{"s":"GR10","f":15,"v":1.2},
      {"s":"GR13","f":0.3,"v":1.42},{"s":"GR13","f":0.347,"v":1.4},{"s":"GR13","f":0.39,"v":1.46},{"s":"GR13","f":0.439,"v":1.46},{"s":"GR13","f":0.494,"v":1.37},{"s":"GR13","f":0.53,"v":1.46},{"s":"GR13","f":0.569,"v":1.76},{"s":"GR13","f":0.61,"v":1.6},{"s":"GR13","f":0.655,"v":1.32},{"s":"GR13","f":0.703,"v":1.33},{"s":"GR13","f":0.772,"v":1.46},{"s":"GR13","f":0.828,"v":1.2},{"s":"GR13","f":0.889,"v":1.28},{"s":"GR13","f":1.0,"v":1.69},{"s":"GR13","f":1.1,"v":1.46},{"s":"GR13","f":1.21,"v":1.37},{"s":"GR13","f":1.32,"v":1.42},{"s":"GR13","f":1.52,"v":1.37},{"s":"GR13","f":1.67,"v":1.3},{"s":"GR13","f":1.84,"v":1.42},{"s":"GR13","f":2.07,"v":1.46},{"s":"GR13","f":2.62,"v":1.5},{"s":"GR13","f":3.31,"v":1.46},{"s":"GR13","f":3.99,"v":1.67},{"s":"GR13","f":4.6,"v":1.64},{"s":"GR13","f":5.3,"v":1.62},{"s":"GR13","f":6.1,"v":1.64},{"s":"GR13","f":7.03,"v":1.56},{"s":"GR13","f":8.1,"v":1.44},{"s":"GR13","f":8.9,"v":1.46},{"s":"GR13","f":10.7,"v":1.5},{"s":"GR13","f":12.3,"v":1.56},{"s":"GR13","f":13.5,"v":1.65},{"s":"GR13","f":15,"v":1.32},
      {"s":"GR17","f":0.3,"v":1.56},{"s":"GR17","f":0.339,"v":1.46},{"s":"GR17","f":0.373,"v":1.42},{"s":"GR17","f":0.419,"v":1.34},{"s":"GR17","f":0.494,"v":1.28},{"s":"GR17","f":0.569,"v":1.34},{"s":"GR17","f":0.655,"v":1.34},{"s":"GR17","f":0.719,"v":1.42},{"s":"GR17","f":0.79,"v":1.42},{"s":"GR17","f":0.889,"v":1.34},{"s":"GR17","f":1.0,"v":1.24},{"s":"GR17","f":1.1,"v":1.22},{"s":"GR17","f":1.21,"v":1.15},{"s":"GR17","f":1.36,"v":1.06},{"s":"GR17","f":1.52,"v":1.22},{"s":"GR17","f":1.67,"v":1.34},{"s":"GR17","f":1.93,"v":1.42},{"s":"GR17","f":2.07,"v":1.46},{"s":"GR17","f":2.38,"v":1.42},{"s":"GR17","f":2.62,"v":1.32},{"s":"GR17","f":2.94,"v":1.12},{"s":"GR17","f":3.64,"v":0.95},{"s":"GR17","f":4.19,"v":1.05},{"s":"GR17","f":4.81,"v":1.14},{"s":"GR17","f":5.55,"v":1.0},{"s":"GR17","f":6.87,"v":0.855},{"s":"GR17","f":7.71,"v":0.95},{"s":"GR17","f":8.9,"v":1.04},{"s":"GR17","f":10.2,"v":1.24},{"s":"GR17","f":11.8,"v":1.3},{"s":"GR17","f":13.5,"v":1.3},{"s":"GR17","f":15,"v":1.0},
      {"s":"GR31","f":0.3,"v":0.86},{"s":"GR31","f":0.339,"v":1.12},{"s":"GR31","f":0.373,"v":1.28},{"s":"GR31","f":0.419,"v":1.32},{"s":"GR31","f":0.47,"v":1.14},{"s":"GR31","f":0.518,"v":1.14},{"s":"GR31","f":0.569,"v":1.08},{"s":"GR31","f":0.625,"v":1.12},{"s":"GR31","f":0.686,"v":1.3},{"s":"GR31","f":0.754,"v":1.42},{"s":"GR31","f":0.828,"v":1.44},{"s":"GR31","f":0.909,"v":1.42},{"s":"GR31","f":1.0,"v":1.5},{"s":"GR31","f":1.1,"v":1.42},{"s":"GR31","f":1.21,"v":1.56},{"s":"GR31","f":1.26,"v":1.73},{"s":"GR31","f":1.42,"v":1.76},{"s":"GR31","f":1.67,"v":1.76},{"s":"GR31","f":1.93,"v":1.78},{"s":"GR31","f":2.22,"v":1.86},{"s":"GR31","f":2.38,"v":1.8},{"s":"GR31","f":2.62,"v":1.54},{"s":"GR31","f":3.16,"v":1.46},{"s":"GR31","f":3.55,"v":1.32},{"s":"GR31","f":4.09,"v":1.22},{"s":"GR31","f":4.81,"v":1.17},{"s":"GR31","f":5.55,"v":1.14},{"s":"GR31","f":6.38,"v":1.17},{"s":"GR31","f":7.39,"v":1.24},{"s":"GR31","f":8.5,"v":1.08},{"s":"GR31","f":9.55,"v":1.14},{"s":"GR31","f":10.7,"v":1.34},{"s":"GR31","f":11.8,"v":1.42},{"s":"GR31","f":12.9,"v":1.01},{"s":"GR31","f":13.9,"v":1.17},{"s":"GR31","f":15,"v":1.12},
      {"s":"GR33","f":0.3,"v":1.12},{"s":"GR33","f":0.339,"v":1.12},{"s":"GR33","f":0.373,"v":1.2},{"s":"GR33","f":0.419,"v":1.24},{"s":"GR33","f":0.47,"v":1.2},{"s":"GR33","f":0.518,"v":1.17},{"s":"GR33","f":0.569,"v":1.12},{"s":"GR33","f":0.625,"v":1.14},{"s":"GR33","f":0.686,"v":1.32},{"s":"GR33","f":0.79,"v":1.37},{"s":"GR33","f":0.909,"v":1.32},{"s":"GR33","f":1.047,"v":1.34},{"s":"GR33","f":1.21,"v":1.37},{"s":"GR33","f":1.36,"v":1.3},{"s":"GR33","f":1.52,"v":1.34},{"s":"GR33","f":1.77,"v":1.37},{"s":"GR33","f":1.93,"v":1.42},{"s":"GR33","f":2.5,"v":1.42},{"s":"GR33","f":3.16,"v":1.42},{"s":"GR33","f":3.64,"v":1.42},{"s":"GR33","f":4.09,"v":1.3},{"s":"GR33","f":4.81,"v":1.17},{"s":"GR33","f":5.83,"v":1.22},{"s":"GR33","f":6.87,"v":1.1},{"s":"GR33","f":7.71,"v":1.17},{"s":"GR33","f":8.9,"v":1.08},{"s":"GR33","f":10.2,"v":1.24},{"s":"GR33","f":11.5,"v":1.37},{"s":"GR33","f":12.9,"v":1.3},{"s":"GR33","f":15,"v":1.24}
    ],
    "m4": [
      {"f":0.3,"v":1.28},{"f":0.355,"v":1.34},{"f":0.409,"v":1.4},{"f":0.466,"v":1.34},{"f":0.53,"v":1.28},{"f":0.596,"v":1.32},{"f":0.67,"v":1.3},{"f":0.754,"v":1.4},{"f":0.868,"v":1.37},{"f":0.953,"v":1.42},{"f":1.07,"v":1.34},{"f":1.21,"v":1.4},{"f":1.39,"v":1.38},{"f":1.6,"v":1.4},{"f":1.84,"v":1.45},{"f":2.22,"v":1.5},{"f":2.5,"v":1.48},{"f":3.02,"v":1.42},{"f":3.64,"v":1.32},{"f":4.39,"v":1.32},{"f":5.3,"v":1.3},{"f":6.24,"v":1.24},{"f":7.39,"v":1.32},{"f":8.5,"v":1.28},{"f":9.78,"v":1.32},{"f":11.2,"v":1.42},{"f":12.9,"v":1.34},{"f":15,"v":1.18}
    ]
  },
  "columns": 2,
  "spacing": {"column": 37, "row": 32},
  "resolve": {"scale": {"color": "independent", "x": "independent", "y": "independent"}, "legend": {"color": "independent"}},
  "concat": [
    {
      "title": "Cluster: 1, size: 3",
      "width": 555, "height": 264,
      "layer": [
        {"data": {"name": "p1"}, "mark": {"type": "line", "strokeWidth": 1.25, "interpolate": "monotone", "clip": true},
         "encoding": {
           "x": {"field": "f", "type": "quantitative", "scale": {"type": "log", "domain": [0.3, 15], "nice": false}, "axis": {"values": [0.3,0.4,0.5,0.6,0.7,0.8,0.9,1,2,3,4,5,6,7,8,9,10], "labelExpr": "datum.value==1?'10⁰':datum.value==10?'10¹':''", "tickSize": {"condition": {"test": "datum.value==1||datum.value==10", "value": 3.5}, "value": 2}}},
           "y": {"field": "v", "type": "quantitative", "scale": {"type": "log", "domain": [0.1, 50], "nice": false}, "axis": {"values": [0.1,0.2,0.3,0.4,0.5,0.6,0.7,0.8,0.9,1,2,3,4,5,6,7,8,9,10,20,30,40], "labelExpr": "datum.value==10?'10¹':datum.value==1?'10⁰':datum.value==0.1?'10⁻¹':''", "tickSize": {"condition": {"test": "datum.value==0.1||datum.value==1||datum.value==10", "value": 3.5}, "value": 2}}},
           "color": {"field": "s", "type": "nominal", "scale": {"domain": ["GR06","GR15","GR32"], "range": ["#1f77b4","#ff7f0e","#2ca02c"]}, "legend": {"columns": 3, "labelExpr": "'1Y.' + datum.label + '.HH'"}}
         }},
        {"data": {"name": "m1"}, "mark": {"type": "line", "color": "black", "strokeWidth": 3, "interpolate": "monotone", "clip": true},
         "encoding": {"x": {"field": "f", "type": "quantitative"}, "y": {"field": "v", "type": "quantitative"}}}
      ]
    },
    {
      "title": "Cluster: 2, size: 20",
      "width": 550, "height": 264,
      "layer": [
        {"data": {"name": "p2"}, "mark": {"type": "line", "strokeWidth": 1.25, "interpolate": "monotone", "clip": true},
         "encoding": {
           "x": {"field": "f", "type": "quantitative", "scale": {"type": "log", "domain": [0.3, 15], "nice": false}, "axis": {"values": [0.3,0.4,0.5,0.6,0.7,0.8,0.9,1,2,3,4,5,6,7,8,9,10], "labelExpr": "datum.value==1?'10⁰':datum.value==10?'10¹':''", "tickSize": {"condition": {"test": "datum.value==1||datum.value==10", "value": 3.5}, "value": 2}}},
           "y": {"field": "v", "type": "quantitative", "scale": {"type": "log", "domain": [0.1, 50], "nice": false}, "axis": {"values": [0.1,0.2,0.3,0.4,0.5,0.6,0.7,0.8,0.9,1,2,3,4,5,6,7,8,9,10,20,30,40], "labelExpr": "datum.value==10?'10¹':datum.value==1?'10⁰':datum.value==0.1?'10⁻¹':''", "tickSize": {"condition": {"test": "datum.value==0.1||datum.value==1||datum.value==10", "value": 3.5}, "value": 2}}},
           "color": {"field": "s", "type": "nominal", "scale": {"domain": ["GR01","GR07","GR16","GR20","GR27","GR02","GR11","GR18","GR22","GR28","GR03","GR12","GR19","GR23","GR29","GR04","GR14","GR19B","GR26","GR30"], "range": ["#1f77b4","#9467bd","#bcbd22","#2ca02c","#e377c2","#ff7f0e","#8c564b","#17becf","#d62728","#7f7f7f","#2ca02c","#e377c2","#1f77b4","#9467bd","#bcbd22","#d62728","#7f7f7f","#ff7f0e","#8c564b","#17becf"]}, "legend": {"columns": 5, "labelExpr": "'1Y.' + datum.label + '.HH'"}}
         }},
        {"data": {"name": "m2"}, "mark": {"type": "line", "color": "black", "strokeWidth": 3, "interpolate": "monotone", "clip": true},
         "encoding": {"x": {"field": "f", "type": "quantitative"}, "y": {"field": "v", "type": "quantitative"}}}
      ]
    },
    {
      "title": "Cluster: 3, size: 4",
      "width": 555, "height": 264,
      "layer": [
        {"data": {"name": "p3"}, "mark": {"type": "line", "strokeWidth": 1.25, "interpolate": "monotone", "clip": true},
         "encoding": {
           "x": {"field": "f", "type": "quantitative", "scale": {"type": "log", "domain": [0.3, 15], "nice": false}, "axis": {"values": [0.3,0.4,0.5,0.6,0.7,0.8,0.9,1,2,3,4,5,6,7,8,9,10], "labelExpr": "datum.value==1?'10⁰':datum.value==10?'10¹':''", "tickSize": {"condition": {"test": "datum.value==1||datum.value==10", "value": 3.5}, "value": 2}}},
           "y": {"field": "v", "type": "quantitative", "scale": {"type": "log", "domain": [0.1, 50], "nice": false}, "axis": {"values": [0.1,0.2,0.3,0.4,0.5,0.6,0.7,0.8,0.9,1,2,3,4,5,6,7,8,9,10,20,30,40], "labelExpr": "datum.value==10?'10¹':datum.value==1?'10⁰':datum.value==0.1?'10⁻¹':''", "tickSize": {"condition": {"test": "datum.value==0.1||datum.value==1||datum.value==10", "value": 3.5}, "value": 2}}},
           "color": {"field": "s", "type": "nominal", "scale": {"domain": ["GR05","GR09","GR21","GR24"], "range": ["#1f77b4","#ff7f0e","#2ca02c","#d62728"]}, "legend": {"columns": 4, "labelExpr": "'1Y.' + datum.label + '.HH'"}}
         }},
        {"data": {"name": "m3"}, "mark": {"type": "line", "color": "black", "strokeWidth": 3, "interpolate": "monotone", "clip": true},
         "encoding": {"x": {"field": "f", "type": "quantitative"}, "y": {"field": "v", "type": "quantitative"}}}
      ]
    },
    {
      "title": "Cluster: 4, size: 5",
      "width": 550, "height": 264,
      "layer": [
        {"data": {"name": "p4"}, "mark": {"type": "line", "strokeWidth": 1.25, "interpolate": "monotone", "clip": true},
         "encoding": {
           "x": {"field": "f", "type": "quantitative", "scale": {"type": "log", "domain": [0.3, 15], "nice": false}, "axis": {"values": [0.3,0.4,0.5,0.6,0.7,0.8,0.9,1,2,3,4,5,6,7,8,9,10], "labelExpr": "datum.value==1?'10⁰':datum.value==10?'10¹':''", "tickSize": {"condition": {"test": "datum.value==1||datum.value==10", "value": 3.5}, "value": 2}}},
           "y": {"field": "v", "type": "quantitative", "scale": {"type": "log", "domain": [0.1, 50], "nice": false}, "axis": {"values": [0.1,0.2,0.3,0.4,0.5,0.6,0.7,0.8,0.9,1,2,3,4,5,6,7,8,9,10,20,30,40], "labelExpr": "datum.value==10?'10¹':datum.value==1?'10⁰':datum.value==0.1?'10⁻¹':''", "tickSize": {"condition": {"test": "datum.value==0.1||datum.value==1||datum.value==10", "value": 3.5}, "value": 2}}},
           "color": {"field": "s", "type": "nominal", "scale": {"domain": ["GR10","GR13","GR17","GR31","GR33"], "range": ["#1f77b4","#ff7f0e","#2ca02c","#d62728","#9467bd"]}, "legend": {"columns": 5, "labelExpr": "'1Y.' + datum.label + '.HH'"}}
         }},
        {"data": {"name": "m4"}, "mark": {"type": "line", "color": "black", "strokeWidth": 3, "interpolate": "monotone", "clip": true},
         "encoding": {"x": {"field": "f", "type": "quantitative"}, "y": {"field": "v", "type": "quantitative"}}}
      ]
    }
  ]
}
